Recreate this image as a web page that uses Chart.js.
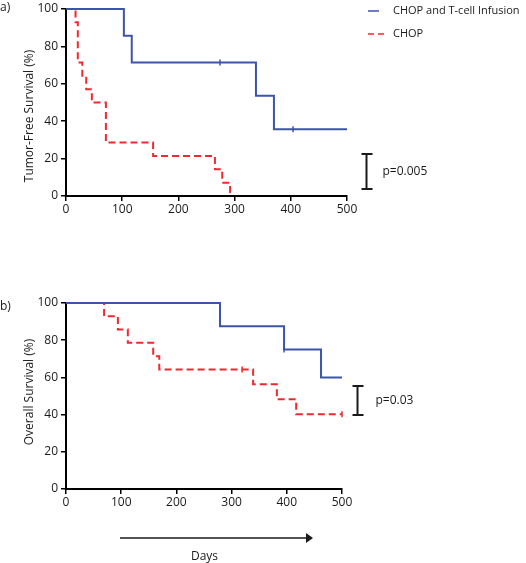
<!DOCTYPE html>
<html>
<head>
<meta charset="utf-8">
<script src="https://cdn.jsdelivr.net/npm/chart.js@4/dist/chart.umd.min.js"></script>
<style>
  html, body { margin: 0; padding: 0; background: #fff; }
  #wrap { position: relative; width: 526px; height: 563px; overflow: hidden; }
  canvas { position: absolute; left: 0; }
  #tfsCanvas { top: 0; }
  #osCanvas { top: 270px; }
</style>
</head>
<body>
<div id="wrap">
  <canvas id="tfsCanvas" width="526" height="265"></canvas>
  <canvas id="osCanvas" width="526" height="293"></canvas>
</div>
<script>
const FONT = '"Open Sans", "DejaVu Sans", sans-serif';
const BLUE = "#3d54ad";
const RED = "#f0282f";

const seriesNames = ["CHOP and T-cell Infusion", "CHOP"];
const dayTicks = [0, 100, 200, 300, 400, 500];
const pctTicks = [0, 20, 40, 60, 80, 100];

// a) tumor-free survival (Kaplan-Meier steps)
const tfsComboDays = [0, 103, 117, 338, 370, 500];
const tfsComboPct = [100, 85.7, 71.4, 53.6, 35.7, 35.7];
const tfsComboCensorDays = [274, 404];
const tfsComboCensorPct = [71.4, 35.7];
const tfsChopDays = [0, 17, 21, 29, 36, 46, 71, 155, 265, 278, 292];
const tfsChopPct = [100, 92.9, 71.4, 64.3, 57.1, 50, 28.6, 21.4, 14.3, 7.1, 0];

// b) overall survival
const osComboDays = [0, 279, 395, 462, 500];
const osComboPct = [100, 87.5, 75, 60, 60];
const osComboCensorDays = [395];
const osComboCensorPct = [75];
const osChopDays = [0, 69, 94, 112, 158, 169, 339, 382, 417, 500];
const osChopPct = [100, 92.9, 85.7, 78.6, 71.4, 64.3, 56.3, 48.2, 40.2, 40.2];
const osChopCensorDays = [319, 500];
const osChopCensorPct = [64.3, 40.2];

// p-value brackets (days, low %, high %)
const pValues = ["p=0.005", "p=0.03"];
const tfsBracket = { day: 533, low: 3.7, high: 22.5 };
const osBracket = { day: 527, low: 39.8, high: 55.4 };

const toPoints = (days, pct) => days.map((d, i) => ({ x: d, y: pct[i] }));

const stepSet = (label, days, pct, color, dash) => ({
  label: label,
  data: toPoints(days, pct),
  borderColor: color,
  borderWidth: 2,
  borderDash: dash,
  stepped: "before",
  pointRadius: 0,
  fill: false,
  clip: 4,
});

const censorSet = (days, pct, color) => ({
  type: "scatter",
  data: toPoints(days, pct),
  showLine: false,
  pointStyle: "line",
  rotation: 90,
  pointRadius: 3,
  pointBorderWidth: 1.5,
  borderColor: color,
  backgroundColor: color,
  clip: false,
});

const overlay = {
  id: "overlay",
  afterDraw(chart, args, opts) {
    const ctx = chart.ctx;
    const xs = chart.scales.x;
    const ys = chart.scales.y;
    ctx.save();
    ctx.fillStyle = "#1a1a1a";
    ctx.strokeStyle = "#1a1a1a";
    ctx.font = `12px ${FONT}`;
    ctx.textBaseline = "middle";
    ctx.textAlign = "left";
    ctx.fillText(opts.panel, 0, opts.panelY);

    // rotated y title
    ctx.save();
    ctx.translate(30, opts.titleY);
    ctx.rotate(-Math.PI / 2);
    ctx.textAlign = "center";
    ctx.fillText(opts.yTitle, 0, 0);
    ctx.restore();

    // significance bracket
    const b = opts.bracket;
    const bx = Math.round(xs.getPixelForValue(b.day)) + 0.5;
    const yTop = ys.getPixelForValue(b.high);
    const yBot = ys.getPixelForValue(b.low);
    ctx.lineWidth = 2;
    ctx.beginPath();
    ctx.moveTo(bx, yTop);
    ctx.lineTo(bx, yBot);
    ctx.moveTo(bx - 5, yTop);
    ctx.lineTo(bx + 6, yTop);
    ctx.moveTo(bx - 5, yBot);
    ctx.lineTo(bx + 6, yBot);
    ctx.stroke();
    ctx.fillText(b.text, bx + b.textGap, (yTop + yBot) / 2);

    if (opts.legend) {
      const lx = 368;
      const rows = [
        { y: 11, color: BLUE, dash: [], len: 11 },
        { y: 34, color: RED, dash: [6, 4], len: 16 },
      ];
      ctx.font = `11px ${FONT}`;
      rows.forEach((r, i) => {
        ctx.strokeStyle = r.color;
        ctx.lineWidth = 1.5;
        ctx.setLineDash(r.dash);
        ctx.beginPath();
        ctx.moveTo(lx, r.y);
        ctx.lineTo(lx + r.len, r.y);
        ctx.stroke();
        ctx.setLineDash([]);
        ctx.fillText(seriesNames[i], 393, r.y);
      });
      ctx.font = `12px ${FONT}`;
    }

    if (opts.arrow) {
      const a = opts.arrow;
      ctx.strokeStyle = "#1a1a1a";
      ctx.lineWidth = 1.5;
      ctx.beginPath();
      ctx.moveTo(a.x1, a.y);
      ctx.lineTo(a.x2 - 6, a.y);
      ctx.stroke();
      ctx.beginPath();
      ctx.moveTo(a.x2, a.y);
      ctx.lineTo(a.x2 - 7, a.y - 5);
      ctx.lineTo(a.x2 - 7, a.y + 5);
      ctx.closePath();
      ctx.fill();
      ctx.textAlign = "center";
      ctx.fillText(a.text, (a.x1 + a.x2) / 2 - 12, a.y + 19);
    }
    ctx.restore();
  },
};

const axisOpts = (ticks, max, afterFit) => ({
  type: "linear",
  min: 0,
  max: max,
  afterBuildTicks: (scale) => {
    scale.ticks = ticks.map((v) => ({ value: v }));
  },
  afterFit: afterFit,
  border: { color: "#000", width: 2 },
  grid: {
    drawOnChartArea: false,
    drawTicks: true,
    tickLength: 5,
    color: "#000",
    lineWidth: 1.5,
  },
  ticks: {
    color: "#1a1a1a",
    padding: 3,
    maxRotation: 0,
    autoSkip: false,
    font: { family: FONT, size: 12, lineHeight: 1 },
  },
});

const buildChart = (canvasId, sets, layout, extras) => {
  const ctx = document.getElementById(canvasId).getContext("2d");
  return new Chart(ctx, {
    type: "line",
    data: { datasets: sets },
    options: {
      responsive: false,
      animation: false,
      layout: { padding: layout.padding },
      plugins: {
        legend: { display: false },
        tooltip: { enabled: false },
        overlay: extras,
      },
      scales: {
        x: axisOpts(dayTicks, 500, (s) => {
          s.height = layout.xHeight;
        }),
        y: axisOpts(pctTicks, 100, (s) => {
          s.width = 66;
        }),
      },
    },
    plugins: [overlay],
  });
};

// a) Tumor-free survival
buildChart(
  "tfsCanvas",
  [
    stepSet(seriesNames[0], tfsComboDays, tfsComboPct, BLUE, []),
    censorSet(tfsComboCensorDays, tfsComboCensorPct, BLUE),
    stepSet(seriesNames[1], tfsChopDays, tfsChopPct, RED, [7, 4]),
  ],
  { padding: { left: 0, top: 5, right: 179, bottom: 0 }, xHeight: 69 },
  {
    panel: "a)",
    panelY: 8,
    yTitle: "Tumor-Free Survival (%)",
    titleY: 116,
    bracket: Object.assign({ text: pValues[0], textGap: 16 }, tfsBracket),
    legend: true,
  }
);

// b) Overall survival
buildChart(
  "osCanvas",
  [
    stepSet(seriesNames[0], osComboDays, osComboPct, BLUE, []),
    censorSet(osComboCensorDays, osComboCensorPct, BLUE),
    stepSet(seriesNames[1], osChopDays, osChopPct, RED, [7, 4]),
    censorSet(osChopCensorDays, osChopCensorPct, RED),
  ],
  { padding: { left: 0, top: 33, right: 184, bottom: 0 }, xHeight: 74 },
  {
    panel: "b)",
    panelY: 37,
    yTitle: "Overall Survival (%)",
    titleY: 122,
    bracket: Object.assign({ text: pValues[1], textGap: 18 }, osBracket),
    arrow: { x1: 120, x2: 313, y: 268, text: "Days" },
  }
);
</script>
</body>
</html>
